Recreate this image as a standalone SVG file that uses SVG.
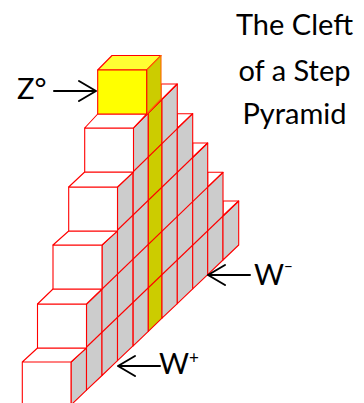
<svg xmlns="http://www.w3.org/2000/svg" width="364" height="403" viewBox="0 0 364 403">
<style>
.c{stroke:#f00;stroke-width:1.1;fill:#fff;stroke-linejoin:round}
.g{stroke:#f00;stroke-width:1.1;fill:#ccc;stroke-linejoin:round}
.y{stroke:#f00;stroke-width:1.1;fill:#cc0;stroke-linejoin:round}
.l{stroke:#f00;stroke-width:1.1;fill:none}
.a{stroke:#000;stroke-width:2;fill:none;stroke-linecap:round;stroke-linejoin:round}
text{font-family:"Lato","Open Sans","Liberation Sans",sans-serif;fill:#000}
.t{font-size:29px;text-anchor:middle}
.s{font-size:29px}
</style>
<g id="back-steps">
<path class="c" d="M161 99.3V84H177.3L162 99.3Z"/>
<path class="c" d="M177.3 128.4V113.7H192.7L177.3 128.4Z"/>
<path class="c" d="M192.7 157.5V143H207.7L192.7 157.5Z"/>
<path class="c" d="M207.7 187.2V172.3H223L207.7 187.2Z"/>
<path class="c" d="M223 216V201H238.7L223 216Z"/>
</g>
<g id="side-faces">
<path class="g" d="M71 362L86.5 347.1V390.2L71 405Z"/>
<path class="g" d="M86.5 304L102 289V375.5L86.5 390.2Z"/>
<path class="g" d="M102 245L117.5 230V360.7L102 375.5Z"/>
<path class="g" d="M117.5 187L133 171.9V345.9L117.5 360.7Z"/>
<path class="g" d="M133.2 128L148.3 113V331.3L133.2 345.9Z"/>
<path class="y" d="M148.3 113L162 99.3V318.2L148.3 331.3Z"/>
<path class="g" d="M162 99.3L177.3 84V303.6L162 318.2Z"/>
<path class="g" d="M177.3 128.4L192.7 113.7V288.9L177.3 303.6Z"/>
<path class="g" d="M192.7 157.5L207.7 143V274.6L192.7 288.9Z"/>
<path class="g" d="M207.7 187.2L223 172.3V260L207.7 274.6Z"/>
<path class="g" d="M223 216L238.7 201V245L223 260Z"/>
</g>
<g id="connectors">
<path class="l" d="M71 362L238.7 201"/>
<path class="l" d="M86.5 304L223 172.3"/>
<path class="l" d="M102 245L207.7 143"/>
<path class="l" d="M117.5 187L192.7 113.7"/>
<path class="l" d="M133.5 127.7L177.3 84"/>
<path class="a" d="M54 91H96M79 81L96 91L79 101"/>
<path class="a" d="M160 366H118M135 356L118 366L135 376"/>
<path class="a" d="M250 275H208M225 265L208 275L225 285"/>
</g>
<g id="step-6"><path class="c" d="M22.3 404V362L37.5 348H86.5L71 362V404M22.3 362H71"/></g>
<g id="step-5"><path class="c" d="M37.5 304H86.5V348H37.5Z"/><path class="c" d="M37.5 304L53 289H102L86.5 304Z"/></g>
<g id="step-4"><path class="c" d="M53 245H102V289H53Z"/><path class="c" d="M53 245L68.7 231H117.5L102 245Z"/></g>
<g id="step-3"><path class="c" d="M68.7 187H117.5V231H68.7Z"/><path class="c" d="M68.7 187L84.7 172H133.5L117.5 187Z"/></g>
<g id="step-2"><path class="c" d="M84.7 128H133.5V172H84.7Z"/><path class="c" d="M84.7 128L97.7 114H146.7L133.5 128Z"/></g>
<g id="top-cube">
<path class="c" style="fill:#ff3" d="M97.7 70L112 55.5H161L146.7 70Z"/>
<path class="c" style="fill:#cc0;stroke:#f60" d="M146.7 70L161 55.5V99L146.7 114Z"/>
<path class="c" style="fill:#ff0" d="M97.7 70H146.7V114H97.7Z"/>
</g>
<g id="labels">
<text class="t" x="294.5" y="35">The Cleft</text>
<text class="t" x="294.5" y="80.5">of a Step</text>
<text class="t" x="294.5" y="124">Pyramid</text>
<text class="s" x="17" y="99">Z°</text>
<text class="s" x="159" y="374">W<tspan font-size="17" dy="-10">+</tspan></text>
<text class="s" x="254" y="285">W<tspan font-size="15" dy="-13">−</tspan></text>
</g>
</svg>
